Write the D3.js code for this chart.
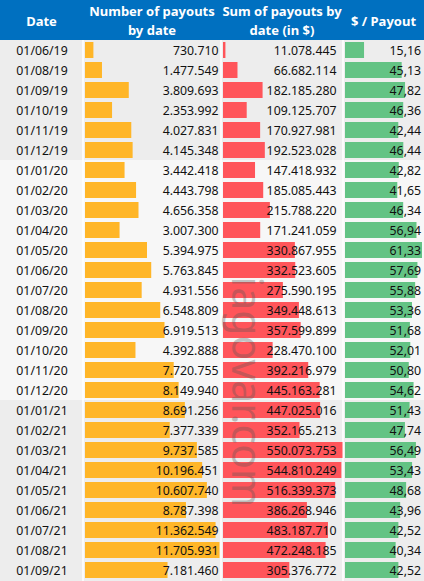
<!DOCTYPE html>
<html>
<head>
<meta charset="utf-8">
<script src="https://cdn.jsdelivr.net/npm/d3@7"></script>
<style>
  body { margin: 0; background: #fff; }
  svg { display: block; font-family: "Noto Sans", sans-serif; }
</style>
</head>
<body>
<div id="chart"></div>
<script>
// size of the page
var chart_width = 424;
var chart_height = 581;
var header_height = 40;

var dates = ["01/06/19", "01/08/19", "01/09/19", "01/10/19", "01/11/19", "01/12/19",
             "01/01/20", "01/02/20", "01/03/20", "01/04/20", "01/05/20", "01/06/20",
             "01/07/20", "01/08/20", "01/09/20", "01/10/20", "01/11/20", "01/12/20",
             "01/01/21", "01/02/21", "01/03/21", "01/04/21", "01/05/21", "01/06/21",
             "01/07/21", "01/08/21", "01/09/21"];

var payouts = [730710, 1477549, 3809693, 2353992, 4027831, 4145348,
               3442418, 4443798, 4656358, 3007300, 5394975, 5763845,
               4931556, 6548809, 6919513, 4392888, 7720755, 8149940,
               8691256, 7377339, 9737585, 10196451, 10607740, 8787398,
               11362549, 11705931, 7181460];

var sums = [11078445, 66682114, 182185280, 109125707, 170927981, 192523028,
            147418932, 185085443, 215788220, 171241059, 330867955, 332523605,
            275590195, 349448613, 357599899, 228470100, 392216979, 445163281,
            447025016, 352165213, 550073753, 544810249, 516339373, 386268946,
            483187710, 472248185, 305376772];

var per_payout = [15.16, 45.13, 47.82, 46.36, 42.44, 46.44,
                  42.82, 41.65, 46.34, 56.94, 61.33, 57.69,
                  55.88, 53.36, 51.68, 52.01, 50.80, 54.62,
                  51.43, 47.74, 56.49, 53.43, 48.68, 43.96,
                  42.52, 40.34, 42.52];

var headers = [["Date"], ["Number of payouts", "by date"], ["Sum of payouts by", "date (in $)"], ["$ / Payout"]];

// spanish style numbers: 1.234.567 and 12,34
var locale = d3.formatLocale({decimal: ",", thousands: ".", grouping: [3], currency: ["", "$"]});
var fmt_int = locale.format(",d");
var fmt_dec = locale.format(",.2f");

// column edges
var col_x = [0, 83, 221, 343, 424];

var rows = dates.map(function(d, i){
    return {date: d, payouts: payouts[i], sum: sums[i], per: per_payout[i]};
});

var y = d3.scaleBand()
          .domain(dates)
          .range([header_height, header_height + dates.length * 20]);

var x_payouts = d3.scaleLinear().domain([0, d3.max(payouts)]).range([0, 134.5]);
var x_sums = d3.scaleLinear().domain([0, d3.max(sums)]).range([0, 119.5]);
var x_per = d3.scaleLinear().domain([0, d3.max(per_payout)]).range([0, 77]);

var svg = d3.select('#chart')
            .append('svg')
            .attr('width', chart_width)
            .attr('height', chart_height);

// header
svg.append('rect')
   .attr('x', 0).attr('y', 0)
   .attr('width', chart_width).attr('height', header_height)
   .attr('fill', '#0070C0');

headers.forEach(function(lines, c){
    var cx = (col_x[c] + col_x[c + 1]) / 2;
    var t = svg.append('text')
               .attr('text-anchor', 'middle')
               .attr('fill', '#fff')
               .attr('font-weight', 'bold')
               .attr('font-size', 13);
    if(lines.length === 1){
        t.append('tspan').attr('x', cx).attr('y', 26).text(lines[0]);
    } else {
        t.append('tspan').attr('x', cx).attr('y', 16).text(lines[0]);
        t.append('tspan').attr('x', cx).attr('y', 35).text(lines[1]);
    }
});

// row backgrounds, banded by year
svg.selectAll('rect.band')
   .data(rows)
   .enter()
   .append('rect')
   .attr('class', 'band')
   .attr('x', 0)
   .attr('y', function(d){ return y(d.date); })
   .attr('width', chart_width)
   .attr('height', y.bandwidth())
   .attr('fill', function(d){
       return d.date.slice(-2) === '20' ? '#F7F7F7' : '#EDEDED';
   });
svg.append('rect')
   .attr('x', 0).attr('y', y.range()[1])
   .attr('width', chart_width).attr('height', chart_height - y.range()[1])
   .attr('fill', '#EDEDED');

// white lines between columns
svg.selectAll('line.grid')
   .data(col_x.slice(1, -1))
   .enter()
   .append('line')
   .attr('class', 'grid')
   .attr('x1', function(d){ return d; })
   .attr('x2', function(d){ return d; })
   .attr('y1', header_height)
   .attr('y2', chart_height)
   .attr('stroke', '#fff')
   .attr('stroke-width', 1.5);

// data bars
function bars(cls, x0, scale, key, color){
    svg.selectAll('rect.' + cls)
       .data(rows)
       .enter()
       .append('rect')
       .attr('class', cls)
       .attr('x', x0)
       .attr('y', function(d){ return y(d.date) + 2; })
       .attr('width', function(d){ return scale(d[key]); })
       .attr('height', y.bandwidth() - 4)
       .attr('fill', color);
}
bars('b_pay', 85, x_payouts, 'payouts', '#FFB628');
bars('b_sum', 223, x_sums, 'sum', '#FF555A');
bars('b_per', 345, x_per, 'per', '#63C384');

// text cells
function cells(cls, x0, anchor, fn){
    svg.selectAll('text.' + cls)
       .data(rows)
       .enter()
       .append('text')
       .attr('class', cls)
       .attr('x', x0)
       .attr('y', function(d){ return y(d.date) + 15; })
       .attr('text-anchor', anchor)
       .attr('font-size', 12.3)
       .attr('fill', '#111')
       .text(fn);
}
cells('t_date', 42, 'middle', function(d){ return d.date; });
cells('t_pay', 218.5, 'end', function(d){ return fmt_int(d.payouts); });
cells('t_sum', 336.5, 'end', function(d){ return fmt_int(d.sum); });
cells('t_per', 421, 'end', function(d){ return fmt_dec(d.per); });

// watermark
svg.append('text')
   .attr('transform', 'translate(232,392) rotate(90)')
   .attr('text-anchor', 'middle')
   .attr('font-size', 41)
   .attr('fill', '#555')
   .attr('opacity', 0.33)
   .text('iagovar.com');
</script>
</body>
</html>
